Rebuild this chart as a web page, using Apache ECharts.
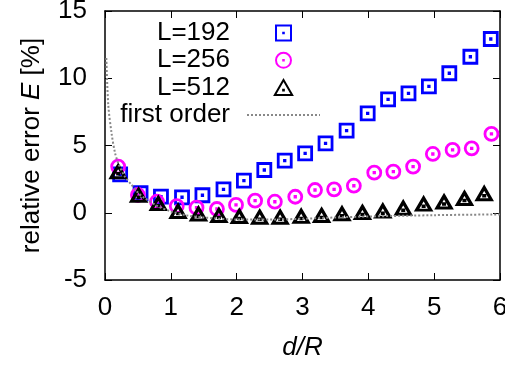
<!DOCTYPE html>
<html>
<head>
<meta charset="utf-8">
<script src="https://cdn.jsdelivr.net/npm/echarts@6/dist/echarts.min.js"></script>
<style>
  html, body { margin: 0; padding: 0; background: #fff; }
  #chart { width: 505px; height: 366px; }
</style>
</head>
<body>
<div id="chart"></div>
<script>
// L=192
const x192 = [0.23, 0.54, 0.85, 1.17, 1.48, 1.80, 2.11, 2.42, 2.73, 3.04, 3.35, 3.67, 3.99, 4.30, 4.61, 4.92, 5.23, 5.55, 5.86];
const y192 = [2.85, 1.45, 1.2, 1.15, 1.3, 1.74, 2.39, 3.18, 3.87, 4.42, 5.16, 6.1, 7.39, 8.43, 8.88, 9.4, 10.37, 11.6, 12.92];
// L=256
const x256 = [0.20, 0.50, 0.79, 1.09, 1.39, 1.70, 1.99, 2.28, 2.58, 2.89, 3.19, 3.48, 3.78, 4.09, 4.38, 4.68, 4.98, 5.28, 5.57, 5.87];
const y256 = [3.43, 1.32, 0.82, 0.5, 0.38, 0.28, 0.58, 0.9, 0.82, 1.19, 1.69, 1.74, 2.01, 2.98, 3.06, 3.43, 4.37, 4.67, 4.79, 5.86];
// L=512
const x512 = [0.20, 0.51, 0.81, 1.11, 1.42, 1.73, 2.04, 2.35, 2.66, 2.98, 3.29, 3.60, 3.91, 4.22, 4.53, 4.84, 5.15, 5.46, 5.76];
const y512 = [3.05, 1.3, 0.68, 0.1, -0.1, -0.2, -0.28, -0.33, -0.33, -0.27, -0.2, -0.08, 0.02, 0.12, 0.34, 0.64, 0.8, 1.06, 1.42];
// first order
const xFirst = [0.02, 0.05, 0.1, 0.15, 0.2, 0.3, 0.4, 0.5, 0.6, 0.8, 1.0, 1.25, 1.5, 2.0, 2.5, 3.0, 3.5, 4.0, 5.0, 6.0];
const yFirst = [11.5, 8.0, 5.9, 4.5, 3.7, 2.7, 2.1, 1.5, 1.1, 0.5, 0.1, -0.2, -0.35, -0.5, -0.5, -0.45, -0.35, -0.28, -0.18, -0.12];

const xTicks = [0, 1, 2, 3, 4, 5, 6];
const yTicks = [-5, 0, 5, 10, 15];

const pairs = (xs, ys) => xs.map((x, i) => [x, ys[i]]);

const font = "Liberation Sans";
const dot = " M4.8,4.8 H5.2 V5.2 H4.8 Z";
const squareSym = "path://M0,0 H10 V10 H0 Z" + dot;
const circleSym = "path://M10,5 A5,5,0,1,1,0,5 A5,5,0,1,1,10,5 Z" + dot;
const triSym = "path://M5,0 L10,8.66 L0,8.66 Z M4.8,5.6 H5.2 V6.0 H4.8 Z";

const chart = echarts.init(document.getElementById("chart"));

function axisLine() {
  return { show: true, onZero: false, lineStyle: { color: "#000", width: 1.5 } };
}
function axisTick() {
  return { show: true, inside: true, length: 7, lineStyle: { color: "#000", width: 1 } };
}

chart.setOption({
  animation: false,
  backgroundColor: "#fff",
  textStyle: { fontFamily: font },
  grid: { left: 105, right: 5, top: 11, bottom: 86, outerBoundsMode: "none" },
  legend: {
    orient: "vertical",
    left: 115,
    top: 20,
    padding: 0,
    align: "right",
    itemWidth: 73,
    itemHeight: 15,
    itemGap: 1.3,
    data: ["L=192", "L=256", "L=512", { name: "first order", itemStyle: { opacity: 0 } }],
    formatter: "{a|{name}}",
    textStyle: {
      rich: {
        a: { width: 115, align: "right", fontSize: 26, lineHeight: 27, color: "#000", fontFamily: font, padding: [0, 12, 0, 0] },
      },
    },
  },
  xAxis: [
    {
      type: "value",
      position: "bottom",
      min: 0,
      max: 6,
      interval: 1,
      name: "d/R",
      nameLocation: "middle",
      nameGap: 55,
      nameTextStyle: { fontSize: 26, fontStyle: "italic", color: "#000", fontFamily: font },
      axisLine: axisLine(),
      axisTick: axisTick(),
      axisLabel: {
        fontSize: 26,
        color: "#000",
        margin: 15,
        formatter: (v) => (xTicks.includes(v) ? String(v) : ""),
      },
      splitLine: { show: false },
    },
    {
      type: "value",
      position: "top",
      min: 0,
      max: 6,
      interval: 1,
      axisLine: axisLine(),
      axisTick: axisTick(),
      axisLabel: { show: false },
      splitLine: { show: false },
    },
  ],
  yAxis: [
    {
      type: "value",
      position: "left",
      min: -5,
      max: 15,
      interval: 5,
      name: "{n|relative error }{i|E}{n| [%]}",
      nameLocation: "middle",
      nameRotate: 90,
      nameGap: 60,
      nameTextStyle: {
        rich: {
          n: { fontSize: 26, color: "#000", fontFamily: font },
          i: { fontSize: 26, color: "#000", fontFamily: font, fontStyle: "italic" },
        },
      },
      axisLine: axisLine(),
      axisTick: axisTick(),
      axisLabel: {
        fontSize: 26,
        color: "#000",
        margin: 18,
        formatter: (v) => (yTicks.includes(v) ? String(v) : ""),
      },
      splitLine: { show: false },
    },
    {
      type: "value",
      position: "right",
      min: -5,
      max: 15,
      interval: 5,
      axisLine: axisLine(),
      axisTick: axisTick(),
      axisLabel: { show: false },
      splitLine: { show: false },
    },
  ],
  series: [
    {
      name: "L=192",
      type: "scatter",
      symbol: squareSym,
      symbolSize: 13,
      itemStyle: { color: "rgba(0,0,0,0)", borderColor: "#0000ff", borderWidth: 2.8, opacity: 1 },
      data: pairs(x192, y192),
    },
    {
      name: "L=256",
      type: "scatter",
      symbol: circleSym,
      symbolSize: 13,
      itemStyle: { color: "rgba(0,0,0,0)", borderColor: "#ff00ff", borderWidth: 2.8, opacity: 1 },
      data: pairs(x256, y256),
    },
    {
      name: "L=512",
      type: "scatter",
      symbol: triSym,
      symbolSize: [14, 12],
      itemStyle: { color: "rgba(0,0,0,0)", borderColor: "#000", borderWidth: 3.2, opacity: 1 },
      data: pairs(x512, y512),
    },
    {
      name: "first order",
      type: "line",
      smooth: 0.3,
      symbol: "none",
      lineStyle: { color: "#888", width: 2, type: [2, 2] },
      itemStyle: { color: "#888" },
      data: pairs(xFirst, yFirst),
    },
  ],
});
</script>
</body>
</html>
